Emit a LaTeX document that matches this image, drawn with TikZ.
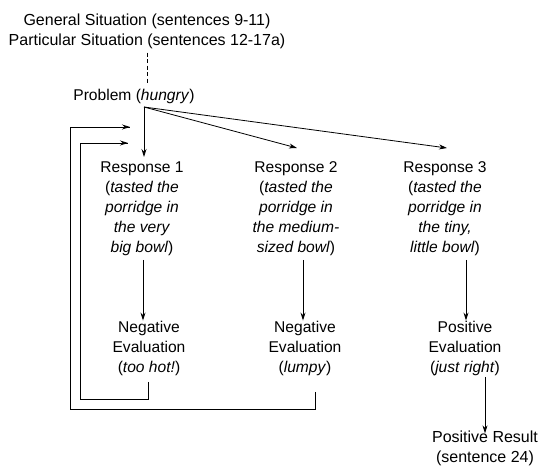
\documentclass[tikz,border=0pt]{standalone}
\usepackage{fontspec}
\setmainfont{Liberation Sans}
\usetikzlibrary{arrows.meta,calc}
\begin{document}
\begin{tikzpicture}[x=1pt,y=-1pt,
  txt/.style={inner sep=0pt,align=center,font=\fontsize{15.6}{20}\selectfont},
  big/.style={txt,font=\fontsize{16}{20}\selectfont},
  arr/.style={-{Stealth[length=8pt,width=5pt]},line width=0.8pt},
  ln/.style={line width=0.8pt}]
\useasboundingbox (0,0) rectangle (542,468);
\node[big] (sit) at (147,31) {General Situation (sentences 9-11)\\Particular Situation (sentences 12-17a)};
\node[txt] (prob) at (134,96) {Problem (\textit{hungry})};
\node[txt] (r1) at (142,209) {Response 1\\(\textit{tasted the}\\\textit{porridge in}\\\textit{the very}\\\textit{big bowl})};
\node[txt] (r2) at (296,209) {Response 2\\(\textit{tasted the}\\\textit{porridge in}\\\textit{the medium-}\\\textit{sized bowl})};
\node[txt] (r3) at (445,209) {Response 3\\(\textit{tasted the}\\\textit{porridge in}\\\textit{the tiny,}\\\textit{little bowl})};
\node[txt] (e1) at (149,348) {Negative\\Evaluation\\(\textit{too hot!})};
\node[txt] (e2) at (305,348) {Negative\\Evaluation\\(\textit{lumpy})};
\node[txt] (e3) at (465,348) {Positive\\Evaluation\\(\textit{just right})};
\node[big] (res) at (485,448) {Positive Result\\(sentence 24)};
% coordinates
\coordinate (po) at (144,107);
\coordinate (t1) at (144,157);
\coordinate (t2) at (297,148);
\coordinate (t3) at (447,148);
\coordinate (d1) at (143,260);
\coordinate (d2) at (303,260);
\coordinate (d3) at (466,260);
\coordinate (d4) at (485,377);
\coordinate (f1) at (148,382);
\coordinate (f2) at (315,392);
\coordinate (g1) at (128,143);
\coordinate (g2) at (130,127);
% connectors
\draw[ln,dash pattern=on 4pt off 2.5pt] ([yshift=-4pt]sit.south) -- ([yshift=6pt]sit.south |- prob.north);
\draw[arr] (po) -- (t1);
\draw[arr] (po) -- (t2);
\draw[arr] (po) -- (t3);
\draw[arr] (d1) -- (d1 |- e1.north);
\draw[arr] (d2) -- (d2 |- e2.north);
\draw[arr] (d3) -- (d3 |- e3.north);
\draw[arr] (d4) -- ([yshift=-3pt]d4 |- res.north);
\draw[ln] (f1) -- (148,399) -- (80,399) |- (g1);
\draw[arr] (80,143) -- (g1);
\draw[ln] (f2) -- (315,409) -- (70,409) |- (g2);
\draw[arr] (70,127) -- (g2);
\end{tikzpicture}
\end{document}
